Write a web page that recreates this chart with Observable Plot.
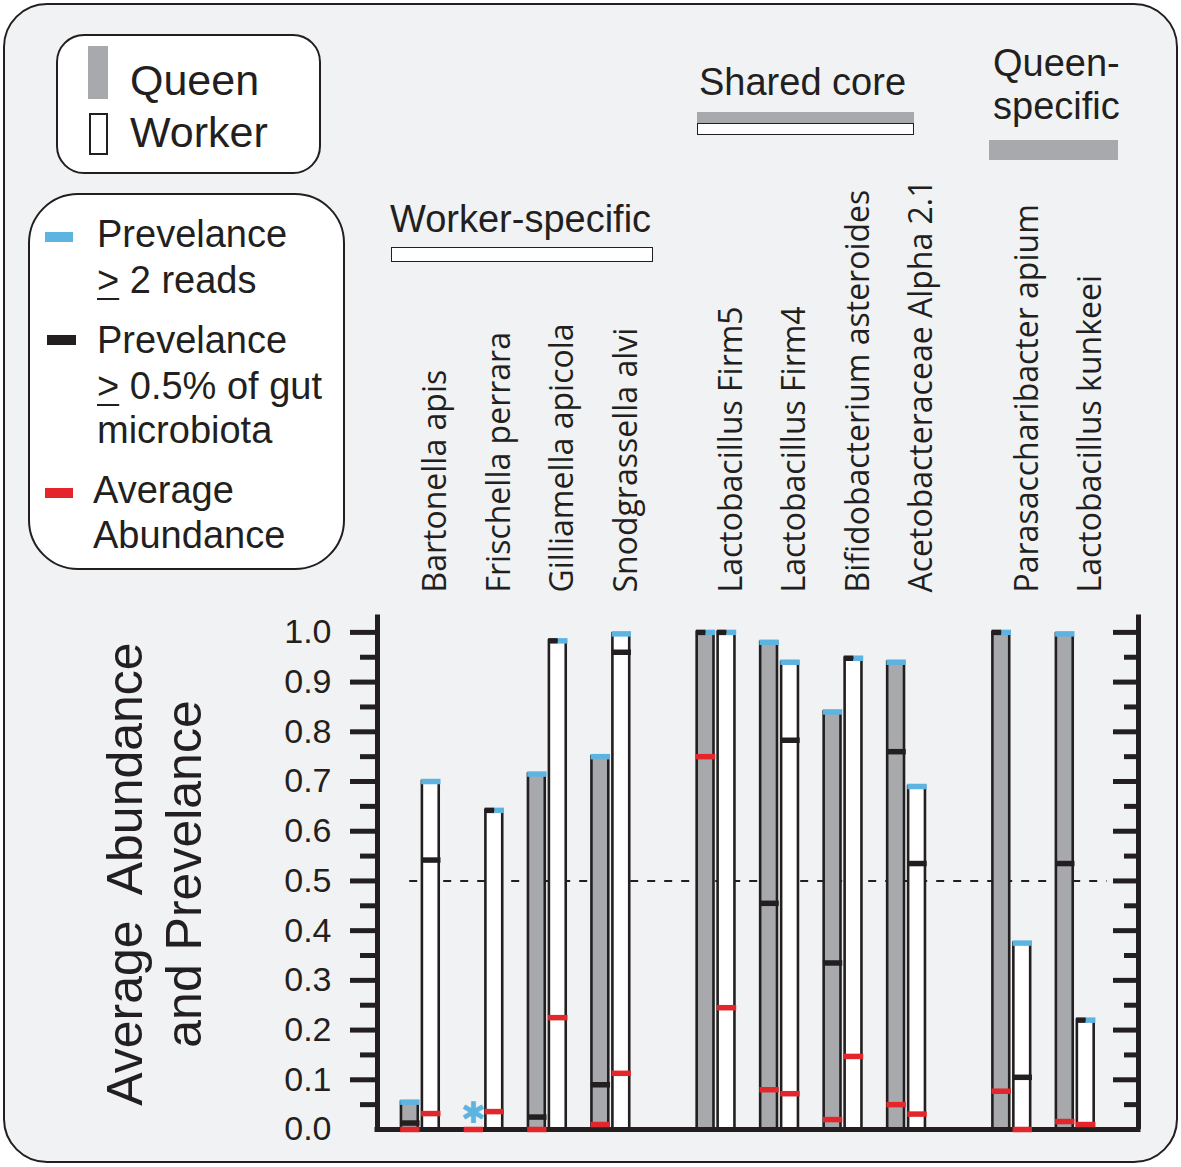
<!DOCTYPE html>
<html><head><meta charset="utf-8">
<script src="https://cdn.jsdelivr.net/npm/d3@7"></script>
<script src="https://cdn.jsdelivr.net/npm/@observablehq/plot@0.6"></script>
<style>
body{margin:0;background:#fff;}
#fig{position:relative;width:1181px;height:1167px;overflow:hidden;font-family:"Liberation Sans",Arial,sans-serif;color:#231f20;}
.abs{position:absolute;box-sizing:border-box;}
.panel{left:3px;top:3px;width:1175px;height:1160px;border:2px solid #231f20;border-radius:44px;background:#f0f2f3;}
.box{border:2px solid #231f20;background:#fff;}
.t{position:absolute;white-space:nowrap;line-height:1;}
.u{text-decoration:underline;text-decoration-thickness:2px;text-underline-offset:5px;}
</style></head>
<body>
<div id="fig">
  <div class="abs panel"></div>
  <div id="chart" class="abs" style="left:0;top:0"></div>

  <!-- caste legend -->
  <div class="abs box" style="left:56px;top:34px;width:265px;height:140px;border-radius:28px"></div>
  <div class="abs" style="left:88px;top:46px;width:20px;height:53px;background:#a7a9ac"></div>
  <div class="abs" style="left:89px;top:113px;width:19px;height:42px;background:#fff;border:2px solid #231f20"></div>
  <div class="t" style="left:130px;top:58.6px;font-size:43px">Queen</div>
  <div class="t" style="left:130px;top:110.6px;font-size:43px">Worker</div>

  <!-- marks legend -->
  <div class="abs box" style="left:28px;top:193px;width:317px;height:377px;border-radius:50px"></div>
  <div class="abs" style="left:45px;top:232px;width:28px;height:10px;background:#5eb4e0"></div>
  <div class="abs" style="left:47px;top:335px;width:29px;height:10px;background:#231f20"></div>
  <div class="abs" style="left:45px;top:488px;width:28px;height:10px;background:#e2262b"></div>
  <div class="t" style="left:97px;top:214.8px;font-size:38px">Prevelance</div>
  <div class="t" style="left:97px;top:260.8px;font-size:38px"><span class="u">&gt;</span> 2 reads</div>
  <div class="t" style="left:97px;top:320.8px;font-size:38px">Prevelance</div>
  <div class="t" style="left:97px;top:366.8px;font-size:38px"><span class="u">&gt;</span> 0.5% of gut</div>
  <div class="t" style="left:97px;top:410.8px;font-size:38px">microbiota</div>
  <div class="t" style="left:93px;top:470.8px;font-size:38px">Average</div>
  <div class="t" style="left:93px;top:515.8px;font-size:38px">Abundance</div>

  <!-- group headers -->
  <div class="t" style="left:390px;top:200.3px;font-size:38px">Worker-specific</div>
  <div class="abs" style="left:391px;top:247px;width:262px;height:15px;background:#fff;border:1.5px solid #231f20"></div>
  <div class="t" style="left:699px;top:63.3px;font-size:38px">Shared core</div>
  <div class="abs" style="left:697px;top:112px;width:217px;height:11px;background:#a7a9ac"></div>
  <div class="abs" style="left:697px;top:123px;width:217px;height:12px;background:#fff;border:1.5px solid #231f20"></div>
  <div class="t" style="left:993px;top:43.8px;font-size:38px">Queen-</div>
  <div class="t" style="left:993px;top:87.3px;font-size:38px">specific</div>
  <div class="abs" style="left:989px;top:140px;width:129px;height:20px;background:#a7a9ac"></div>
</div>
<script>
// ---- data ----
const species = ["Bartonella apis","Frischella perrara","Gilliamella apicola","Snodgrassella alvi",
  "Lactobacillus Firm5","Lactobacillus Firm4","Bifidobacterium asteroides","Acetobacteraceae Alpha 2.1",
  "Parasaccharibacter apium","Lactobacillus kunkeei"];
const groups = ["Worker-specific","Shared core","Queen-specific"];
const speciesGroup = ["Worker-specific","Worker-specific","Worker-specific","Worker-specific",
  "Shared core","Shared core","Shared core","Shared core","Queen-specific","Queen-specific"];
// prevalence >= 2 reads (blue), prevalence >= 0.5% (black), average abundance (red)
const queenReads  = [0.055, null, 0.715, 0.75, 1.0, 0.98, 0.84, 0.94, 1.0, 0.997];
const queenHalf   = [0.013, null, 0.025, 0.09, 1.0, 0.455, 0.335, 0.76, 1.0, 0.535];
const queenAbund  = [0.0, 0.0, 0.0, 0.01, 0.75, 0.08, 0.02, 0.05, 0.077, 0.016];
const workerReads = [0.70, 0.642, 0.983, 0.997, 1.0, 0.94, 0.948, 0.69, 0.375, 0.22];
const workerHalf  = [0.542, 0.642, 0.983, 0.96, 1.0, 0.783, 0.948, 0.535, 0.105, 0.22];
const workerAbund = [0.032, 0.036, 0.225, 0.113, 0.245, 0.072, 0.147, 0.031, 0.0, 0.01];
const majorTicks = [0.1,0.2,0.3,0.4,0.5,0.6,0.7,0.8,0.9,1.0];
const minorTicks = [0.05,0.15,0.25,0.35,0.45,0.55,0.65,0.75,0.85,0.95];
const tickLabels = [0,0.1,0.2,0.3,0.4,0.5,0.6,0.7,0.8,0.9,1.0];
const thresholdLine = [0.5];

// ---- styling ----
const INK = "#231f20", GRAY = "#a7a9ac", BLUE = "#5eb4e0", RED = "#e2262b";
const GAP = 0.657;
const pos = species.map((s, i) => i + groups.indexOf(speciesGroup[i]) * GAP);
const xDomain = [-0.677, 11.307];
const yMax = 1.04;
const OFF = {Queen: [-0.30, -0.035], Worker: [0.03, 0.295]};
const E = 0.02;

const bars = [];
species.forEach((s, i) => {
  [["Queen", queenReads, queenHalf, queenAbund], ["Worker", workerReads, workerHalf, workerAbund]]
    .forEach(([caste, R, H, A]) => {
      bars.push({species: s, caste, x1: pos[i] + OFF[caste][0], x2: pos[i] + OFF[caste][1],
        reads: R[i], half: H[i], abund: A[i]});
    });
});
const redRows = [], blackRows = [], blueRows = [];
bars.forEach(d => {
  const a = d.x1 - E, b = d.x2 + E, m = (d.x1 + d.x2) / 2;
  redRows.push({x1: a, x2: b, y: d.abund});
  if (d.reads != null && d.half != null && Math.abs(d.reads - d.half) < 0.004) {
    blackRows.push({x1: a, x2: m, y: d.half});
    blueRows.push({x1: m, x2: b, y: d.reads});
  } else {
    if (d.half != null) blackRows.push({x1: a, x2: b, y: d.half});
    if (d.reads != null) blueRows.push({x1: a, x2: b, y: d.reads});
  }
});

const plot = Plot.plot({
  width: 1181, height: 1167,
  marginTop: 612, marginBottom: 38, marginLeft: 377, marginRight: 43,
  style: {background: "transparent", fontFamily: "Liberation Sans, Arial, sans-serif", color: INK, overflow: "visible"},
  x: {domain: xDomain, axis: null},
  y: {domain: [0, yMax], label: null},
  marks: [
    Plot.ruleY(thresholdLine, {x1: pos[0] - 0.17, x2: pos[pos.length - 1] + 0.5, stroke: INK, strokeWidth: 2, strokeDasharray: "8,9"}),
    Plot.rect(bars.filter(d => d.reads != null), {x1: "x1", x2: "x2", y1: 0, y2: "reads",
      fill: d => d.caste === "Queen" ? GRAY : "#fff", stroke: INK, strokeWidth: 2.6}),
    Plot.ruleY([0], {stroke: INK, strokeWidth: 5, insetLeft: -2.5, insetRight: -2.5}),
    Plot.ruleX([xDomain[0]], {y1: 0, y2: yMax, stroke: INK, strokeWidth: 5, insetBottom: -2.5}),
    Plot.ruleX([xDomain[1]], {y1: 0, y2: yMax, stroke: INK, strokeWidth: 5, insetBottom: -2.5}),
    Plot.axisY({ticks: tickLabels, tickSize: 0, tickPadding: 46, tickFormat: d3.format(".1f"), fontSize: 34, label: null}),
    Plot.axisY({ticks: majorTicks, tickSize: 27, tickFormat: () => "", strokeWidth: 5, stroke: INK, label: null}),
    Plot.axisY({ticks: minorTicks, tickSize: 17, tickFormat: () => "", strokeWidth: 5, stroke: INK, label: null}),
    Plot.axisY({anchor: "right", ticks: majorTicks, tickSize: 26, dx: -26, tickFormat: () => "", strokeWidth: 5, stroke: INK, label: null}),
    Plot.axisY({anchor: "right", ticks: minorTicks, tickSize: 15, dx: -15, tickFormat: () => "", strokeWidth: 5, stroke: INK, label: null}),
    Plot.link(redRows, {x1: "x1", x2: "x2", y1: "y", y2: "y", stroke: RED, strokeWidth: 5.5}),
    Plot.link(blackRows, {x1: "x1", x2: "x2", y1: "y", y2: "y", stroke: INK, strokeWidth: 5.5}),
    Plot.link(blueRows, {x1: "x1", x2: "x2", y1: "y", y2: "y", stroke: BLUE, strokeWidth: 5.5}),
    Plot.text(bars.filter(d => d.reads == null), {x: d => (d.x1 + d.x2) / 2, y: 0, dy: -16, text: () => "\u2731",
      fill: BLUE, fontSize: 30, fontFamily: "DejaVu Sans"}),
    Plot.text(species, {x: (d, i) => pos[i], text: d => d, frameAnchor: "top", dy: -20, dx: 3, rotate: -90,
      textAnchor: "start", fontSize: 32, fontFamily: "Open Sans", fill: INK}),
    Plot.text(["Average\u00a0 Abundance\nand Prevelance"], {text: d => d, frameAnchor: "left", dx: -225, dy: 3, rotate: -90,
      textAnchor: "middle", fontSize: 50, lineHeight: 1.18, fill: INK})
  ]
});
document.getElementById("chart").appendChild(plot);
</script>
</body></html>
